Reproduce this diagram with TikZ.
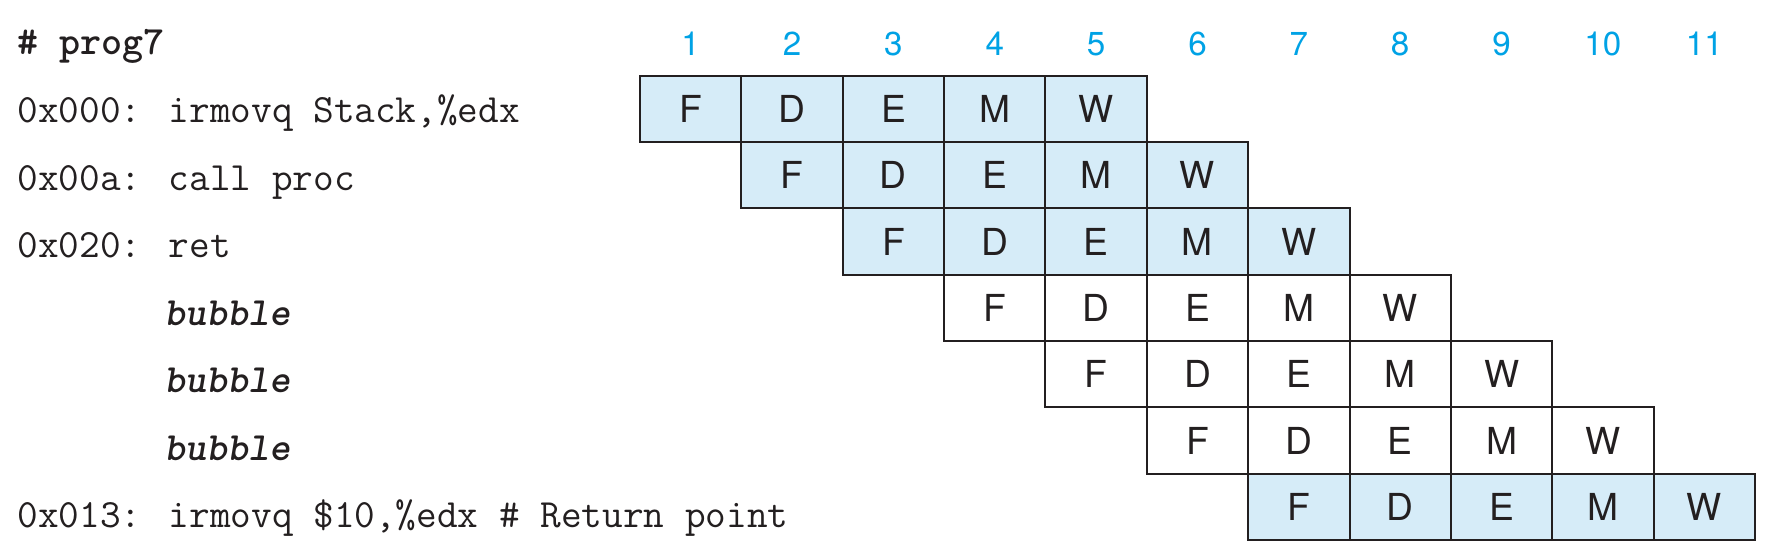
\documentclass[tikz,border=0pt]{standalone}
\usepackage{fontspec}
\newfontfamily\cellfont{TeX Gyre Heros}
\definecolor{cellblue}{HTML}{D6ECF8}
\definecolor{numblue}{HTML}{00A2E5}
\definecolor{txt}{HTML}{231F20}
\begin{document}
\begin{tikzpicture}[x=0.5pt,y=-0.5pt,
  cell/.style={draw=txt, line width=1pt, minimum width=50.68pt, minimum height=33.17pt, inner sep=0pt,
    font=\cellfont\fontsize{18.6}{20}\selectfont, text=txt},
  shaded/.style={cell, fill=cellblue},
  plain/.style={cell, fill=white},
  cyc/.style={text=numblue, font=\cellfont\fontsize{16.6}{18}\selectfont, anchor=base, inner sep=0pt},
  code/.style={anchor=base west, inner sep=0pt, font=\ttfamily\fontsize{20.05}{22}\selectfont, text=txt}
]
\useasboundingbox (0,0) rectangle (1769,554);
% cycle numbers
\foreach \n in {1,...,11}
  \node[cyc] (n\n) at ({640+(\n-0.5)*101.36},55) {\n};
% pipeline cells
\foreach \r/\s/\st in {1/1/shaded,2/2/shaded,3/3/shaded,4/4/plain,5/5/plain,6/6/plain,7/7/shaded}{
  \foreach \L [count=\k from 0] in {F,D,E,M,W}{
    \node[\st] (r\r\L) at ({640+(\s+\k-0.5)*101.36},{75.7+(\r-0.5)*66.33}) {\L};
  }
}
% code text
\node[code] (t0) at (17,54) {\bfseries \# prog7};
\node[code] (t1) at (17,122.7) {0x000: irmovq Stack,\%edx};
\node[code] (t2) at (17,190.2) {0x00a: call proc};
\node[code] (t3) at (17,257.7) {0x020: ret};
\node[code] (t4) at (164,325.2) {\bfseries\itshape bubble};
\node[code] (t5) at (164,392.7) {\bfseries\itshape bubble};
\node[code] (t6) at (164,460.2) {\bfseries\itshape bubble};
\node[code] (t7) at (17,527.7) {0x013: irmovq \$10,\%edx \# Return point};
\end{tikzpicture}
\end{document}
